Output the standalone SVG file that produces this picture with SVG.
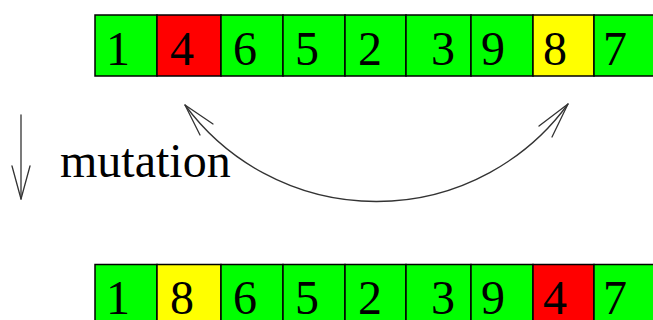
<svg xmlns="http://www.w3.org/2000/svg" width="653" height="320" viewBox="0 0 653 320">
<style>
.c{stroke:#000;stroke-width:1.5}
.g{fill:#00ff00}.r{fill:#ff0000}.y{fill:#ffff00}
.d{font-family:"Liberation Serif","Times New Roman",serif;font-size:48px;fill:#000;text-anchor:middle}
.lbl{font-family:"Liberation Serif","Times New Roman",serif;font-size:48px;fill:#000}
.ln{fill:none;stroke:#333;stroke-width:1.3;stroke-linecap:round;stroke-linejoin:round}
</style>
<rect width="653" height="320" fill="#fff"/>
<g id="row-before">
<g id="b1"><rect class="c g" x="95" y="15" width="62" height="61"/><text class="d" x="118" y="65">1</text></g>
<g id="b2"><rect class="c r" x="157" y="15" width="64" height="61"/><text class="d" x="182" y="65">4</text></g>
<g id="b3"><rect class="c g" x="221" y="15" width="62" height="61"/><text class="d" x="245" y="65">6</text></g>
<g id="b4"><rect class="c g" x="283" y="15" width="62" height="61"/><text class="d" x="307" y="65">5</text></g>
<g id="b5"><rect class="c g" x="345" y="15" width="61" height="61"/><text class="d" x="370" y="65">2</text></g>
<g id="b6"><rect class="c g" x="406" y="15" width="65" height="61"/><text class="d" x="443" y="65">3</text></g>
<g id="b7"><rect class="c g" x="471" y="15" width="62" height="61"/><text class="d" x="493" y="65">9</text></g>
<g id="b8"><rect class="c y" x="533" y="15" width="61" height="61"/><text class="d" x="555" y="65">8</text></g>
<g id="b9"><rect class="c g" x="594" y="15" width="70" height="61"/><text class="d" x="615" y="65">7</text></g>
</g>
<g id="row-after">
<g id="a1"><rect class="c g" x="95" y="264.5" width="62" height="70"/><text class="d" x="118" y="314">1</text></g>
<g id="a2"><rect class="c y" x="157" y="264.5" width="64" height="70"/><text class="d" x="182" y="314">8</text></g>
<g id="a3"><rect class="c g" x="221" y="264.5" width="62" height="70"/><text class="d" x="245" y="314">6</text></g>
<g id="a4"><rect class="c g" x="283" y="264.5" width="62" height="70"/><text class="d" x="307" y="314">5</text></g>
<g id="a5"><rect class="c g" x="345" y="264.5" width="61" height="70"/><text class="d" x="370" y="314">2</text></g>
<g id="a6"><rect class="c g" x="406" y="264.5" width="65" height="70"/><text class="d" x="443" y="314">3</text></g>
<g id="a7"><rect class="c g" x="471" y="264.5" width="62" height="70"/><text class="d" x="493" y="314">9</text></g>
<g id="a8"><rect class="c r" x="533" y="264.5" width="61" height="70"/><text class="d" x="555" y="314">4</text></g>
<g id="a9"><rect class="c g" x="594" y="264.5" width="70" height="70"/><text class="d" x="615" y="314">7</text></g>
</g>
<g id="label"><text class="lbl" x="60" y="177">mutation</text></g>
<g id="connectors">
<path class="ln" d="M21 115 L21 199"/>
<path class="ln" d="M12 166 L21 199 L30 166"/>
<path class="ln" d="M185 105 A237.5 237.5 0 0 0 568 104"/>
<path class="ln" d="M213 124 L185 105 L200 135"/>
<path class="ln" d="M539 126 L568 104 L552 137"/>
</g>
</svg>
